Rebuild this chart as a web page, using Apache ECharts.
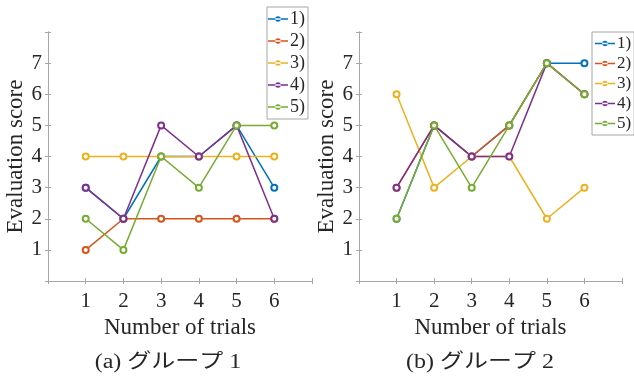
<!DOCTYPE html>
<html>
<head>
<meta charset="utf-8">
<script src="https://cdn.jsdelivr.net/npm/echarts@6/dist/echarts.min.js"></script>
<style>html,body{margin:0;padding:0;background:#fff}#c{width:634px;height:381px}</style>
</head>
<body>
<div id="c"></div>
<script>
// ---- data ----
const trials = [1, 2, 3, 4, 5, 6];
const seriesNames = ['1)', '2)', '3)', '4)', '5)'];
const colors = ['#0072BD', '#D95319', '#EDB120', '#7E2F8E', '#77AC30'];
const g1s1 = [3, 2, 4, 4, 5, 3];
const g1s2 = [1, 2, 2, 2, 2, 2];
const g1s3 = [4, 4, 4, 4, 4, 4];
const g1s4 = [3, 2, 5, 4, 5, 2];
const g1s5 = [2, 1, 4, 3, 5, 5];
const g2s1 = [2, 5, 4, 5, 7, 7];
const g2s2 = [3, 5, 4, 5, 7, 6];
const g2s3 = [6, 3, 4, 4, 2, 3];
const g2s4 = [3, 5, 4, 4, 7, 6];
const g2s5 = [2, 5, 3, 5, 7, 6];
const xTickLabels = ['1', '2', '3', '4', '5', '6'];
const yTickLabels = ['1', '2', '3', '4', '5', '6', '7'];
const xTitle = 'Number of trials';
const yTitle = 'Evaluation score';
const captions = ['(a) グループ 1', '(b) グループ 2'];

const group1 = [g1s1, g1s2, g1s3, g1s4, g1s5];
const group2 = [g2s1, g2s2, g2s3, g2s4, g2s5];

const serif = 'Liberation Serif';
const textColor = '#262626';
const axisColor = '#a6a6a6';
const legendIcon = 'path://M0,2.2h22v1.6h-22z M8,3a3,3 0 1,0 6,0a3,3 0 1,0 -6,0z';

const chart = echarts.init(document.getElementById('c'), null, {renderer: 'canvas'});

const grids = [
  {left: 48, top: 32, width: 264, height: 249},
  {left: 359, top: 32, width: 263, height: 249}
];

function mainX(gi) {
  return {
    type: 'value', gridIndex: gi, min: 0, max: 7, interval: 1, position: 'bottom',
    axisLine: {show: true, lineStyle: {color: axisColor, width: 1}},
    axisTick: {show: true, inside: true, length: 3, lineStyle: {color: axisColor}},
    splitLine: {show: false},
    axisLabel: {
      color: textColor, fontFamily: serif, fontSize: 21, margin: 10,
      formatter: v => xTickLabels.includes(String(v)) ? String(v) : ''
    },
    name: xTitle, nameLocation: 'middle', nameGap: 29,
    nameTextStyle: {color: textColor, fontFamily: serif, fontSize: 23}
  };
}
function topX(gi) {
  return {
    type: 'value', gridIndex: gi, min: 0, max: 7, interval: 1, position: 'top',
    axisLine: {show: true, lineStyle: {color: axisColor, width: 1}},
    axisTick: {show: true, inside: true, length: 3, lineStyle: {color: axisColor}},
    splitLine: {show: false}, axisLabel: {show: false}
  };
}
function mainY(gi) {
  return {
    type: 'value', gridIndex: gi, min: 0, max: 8, interval: 1, position: 'left',
    axisLine: {show: true, lineStyle: {color: axisColor, width: 1}},
    axisTick: {show: true, inside: true, length: 3, lineStyle: {color: axisColor}},
    splitLine: {show: false},
    axisLabel: {
      color: textColor, fontFamily: serif, fontSize: 21, margin: 6,
      formatter: v => yTickLabels.includes(String(v)) ? String(v) : ''
    },
    name: yTitle, nameLocation: 'middle', nameGap: 19,
    nameTextStyle: {color: textColor, fontFamily: serif, fontSize: 23}
  };
}
function rightY(gi) {
  return {
    type: 'value', gridIndex: gi, min: 0, max: 8, interval: 1, position: 'right',
    axisLine: {show: true, lineStyle: {color: axisColor, width: 1}},
    axisTick: {show: true, inside: true, length: 3, lineStyle: {color: axisColor}},
    splitLine: {show: false}, axisLabel: {show: false}
  };
}

const series = [];
[group1, group2].forEach((grp, gi) => {
  grp.forEach((vals, si) => {
    series.push({
      type: 'line', name: seriesNames[si],
      xAxisIndex: gi * 2, yAxisIndex: gi * 2,
      data: trials.map((t, k) => [t, vals[k]]),
      symbol: 'emptyCircle', symbolSize: 6,
      lineStyle: {color: colors[si], width: 1.5},
      itemStyle: {color: colors[si], borderWidth: 1.2},
      animation: false
    });
  });
});

const legendData = seriesNames.map((n, i) => ({
  name: n, icon: legendIcon,
  itemStyle: {color: colors[i], borderWidth: 0, opacity: 1}
}));

const legendBase = {
  orient: 'vertical', backgroundColor: '#fff', borderColor: '#a6a6a6', borderWidth: 1,
  borderRadius: 0, itemWidth: 20, itemHeight: 14, z: 10,
  data: legendData
};

chart.setOption({
  animation: false,
  grid: grids,
  xAxis: [mainX(0), topX(0), mainX(1), topX(1)],
  yAxis: [mainY(0), rightY(0), mainY(1), rightY(1)],
  legend: [
    Object.assign({}, legendBase, {left: 267, top: 7, itemGap: 4, padding: [3, 3, 3, 1],
      textStyle: {color: textColor, fontFamily: serif, fontSize: 18, padding: [0, 0, 0, -3]}}),
    Object.assign({}, legendBase, {left: 592, top: 32, itemGap: 3, padding: [3, 3, 3, 3],
      textStyle: {color: textColor, fontFamily: serif, fontSize: 17, padding: [0, 0, 0, -3]}})
  ],
  graphic: [
    {type: 'text', x: 168, y: 363, scaleX: 1.2, style: {text: captions[0], font: '20px "Liberation Serif", "Noto Sans CJK JP"', fill: textColor, textAlign: 'center', textVerticalAlign: 'middle'}},
    {type: 'text', x: 480, y: 363, scaleX: 1.2, style: {text: captions[1], font: '20px "Liberation Serif", "Noto Sans CJK JP"', fill: textColor, textAlign: 'center', textVerticalAlign: 'middle'}}
  ],
  series: series
});
</script>
</body>
</html>
